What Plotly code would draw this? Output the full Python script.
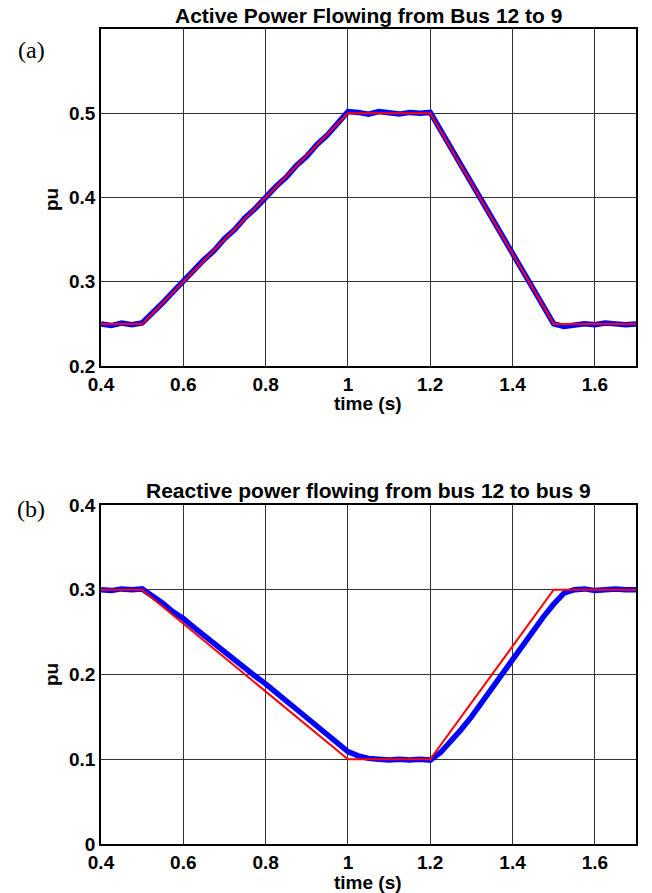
import plotly.graph_objects as go

# ---- data ----
red_a_t = [0.4, 0.5, 1.0, 1.2, 1.5, 1.7]
red_a_v = [0.25, 0.25, 0.50, 0.50, 0.25, 0.25]

blue_a_t = [0.400, 0.425, 0.450, 0.475, 0.500, 0.525, 0.550, 0.575, 0.600, 0.625,
            0.650, 0.675, 0.700, 0.725, 0.750, 0.775, 0.800, 0.825, 0.850, 0.875,
            0.900, 0.925, 0.950, 0.975, 1.000, 1.025, 1.050, 1.075, 1.100, 1.125,
            1.150, 1.175, 1.200, 1.225, 1.250, 1.275, 1.300, 1.325, 1.350, 1.375,
            1.400, 1.425, 1.450, 1.475, 1.500, 1.525, 1.550, 1.575, 1.600, 1.625,
            1.650, 1.675, 1.700]
blue_a_v = [0.250, 0.248, 0.251, 0.249, 0.251, 0.262, 0.275, 0.288, 0.301, 0.312,
            0.326, 0.337, 0.351, 0.362, 0.376, 0.387, 0.401, 0.413, 0.424, 0.438,
            0.449, 0.463, 0.474, 0.488, 0.502, 0.501, 0.499, 0.502, 0.500, 0.499,
            0.501, 0.500, 0.501, 0.480, 0.459, 0.437, 0.417, 0.395, 0.376, 0.354,
            0.334, 0.312, 0.292, 0.270, 0.250, 0.247, 0.249, 0.250, 0.249, 0.251,
            0.250, 0.249, 0.250]

red_b_t = [0.4, 0.5, 1.0, 1.2, 1.5, 1.7]
red_b_v = [0.30, 0.30, 0.10, 0.10, 0.30, 0.30]

blue_b_t = blue_a_t
blue_b_v = [0.300, 0.299, 0.301, 0.300, 0.301, 0.293, 0.284, 0.274, 0.266, 0.256,
            0.246, 0.237, 0.227, 0.217, 0.208, 0.198, 0.189, 0.178, 0.169, 0.159,
            0.149, 0.139, 0.128, 0.118, 0.109, 0.104, 0.101, 0.100, 0.099, 0.100,
            0.099, 0.100, 0.099, 0.108, 0.121, 0.135, 0.150, 0.167, 0.184, 0.200,
            0.218, 0.235, 0.252, 0.268, 0.283, 0.296, 0.300, 0.301, 0.299, 0.300,
            0.301, 0.300, 0.300]

x_ticks = [0.4, 0.6, 0.8, 1.0, 1.2, 1.4, 1.6]
x_tick_text = ["0.4", "0.6", "0.8", "1", "1.2", "1.4", "1.6"]
ya_ticks = [0.2, 0.3, 0.4, 0.5]
ya_text = ["0.2", "0.3", "0.4", "0.5"]
yb_ticks = [0, 0.1, 0.2, 0.3, 0.4]
yb_text = ["0", "0.1", "0.2", "0.3", "0.4"]

W, H = 652, 893
FONT = "Liberation Sans, Arial, sans-serif"

fig = go.Figure()
fig.add_trace(go.Scatter(x=blue_a_t, y=blue_a_v, mode="lines",
                         line=dict(color="#0000ff", width=5.5), xaxis="x", yaxis="y",
                         showlegend=False))
fig.add_trace(go.Scatter(x=red_a_t, y=red_a_v, mode="lines",
                         line=dict(color="#ff0000", width=2), xaxis="x", yaxis="y",
                         showlegend=False))
fig.add_trace(go.Scatter(x=blue_b_t, y=blue_b_v, mode="lines",
                         line=dict(color="#0000ff", width=5.5), xaxis="x2", yaxis="y2",
                         showlegend=False))
fig.add_trace(go.Scatter(x=red_b_t, y=red_b_v, mode="lines",
                         line=dict(color="#ff0000", width=2), xaxis="x2", yaxis="y2",
                         showlegend=False))

def px_x(p):
    return p / W

def px_y(p):
    return 1 - p / H

axis_common = dict(showline=True, linecolor="black", linewidth=1.5, mirror=True,
                   showgrid=True, gridcolor="#333333", gridwidth=1, zeroline=False,
                   ticks="", tickfont=dict(family=FONT, size=19, color="black", weight="bold"))

fig.update_layout(
    width=W, height=H,
    margin=dict(l=0, r=0, t=0, b=0, autoexpand=False),
    paper_bgcolor="white", plot_bgcolor="white",
    xaxis=dict(domain=[px_x(101), px_x(636)], range=[0.4, 1.7], tickvals=x_ticks,
               ticktext=x_tick_text, anchor="y", **axis_common),
    yaxis=dict(domain=[px_y(366), px_y(29)], range=[0.2, 0.6], tickvals=ya_ticks,
               ticktext=ya_text, anchor="x", **axis_common),
    xaxis2=dict(domain=[px_x(101), px_x(636)], range=[0.4, 1.7], tickvals=x_ticks,
                ticktext=x_tick_text, anchor="y2", **axis_common),
    yaxis2=dict(domain=[px_y(844), px_y(505)], range=[0, 0.4], tickvals=yb_ticks,
                ticktext=yb_text, anchor="x2", **axis_common),
)

def ann(text, x, y, size, bold=True, family=FONT, angle=0):
    fig.add_annotation(text=text, x=px_x(x), y=px_y(y), xref="paper", yref="paper",
                       showarrow=False, textangle=angle, xanchor="center", yanchor="middle",
                       font=dict(family=family, size=size, color="black",
                                 weight="bold" if bold else "normal"))

ann("Active Power Flowing from Bus 12 to 9", 368, 16, 21)
ann("Reactive power flowing from bus 12 to bus 9", 368, 490, 21)
ann("time (s)", 368, 403, 19)
ann("time (s)", 368, 882, 19)
ann("pu", 51, 200, 19, angle=-90)
ann("pu", 51, 675, 19, angle=-90)
ann("(a)", 31, 50, 24, bold=False, family="Liberation Serif, Times New Roman, serif")
ann("(b)", 31, 509, 24, bold=False, family="Liberation Serif, Times New Roman, serif")

fig.write_html("out.html")
